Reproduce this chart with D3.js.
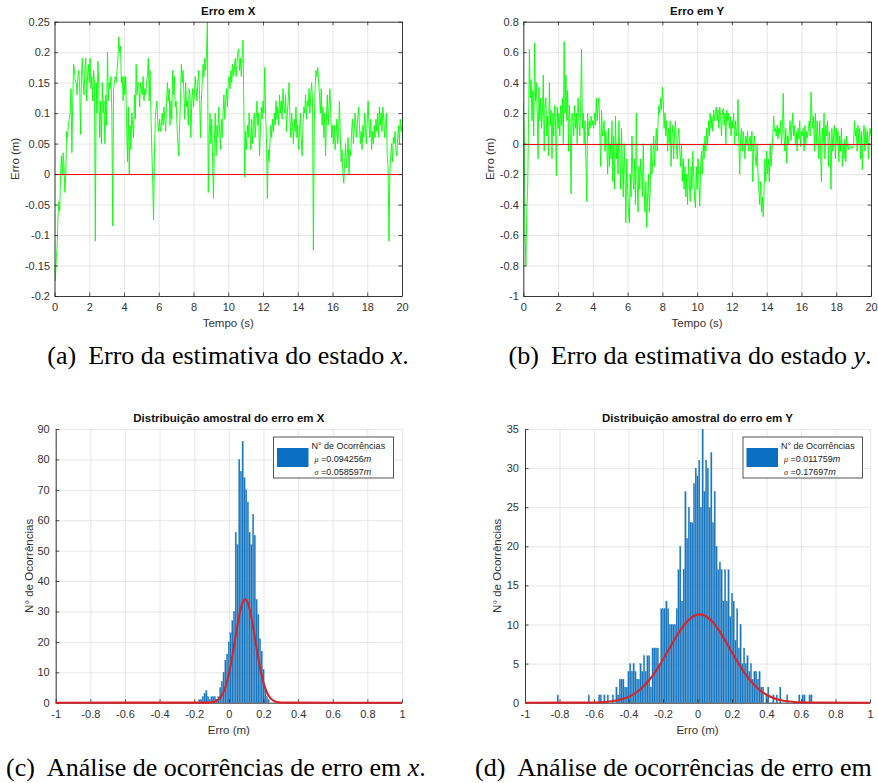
<!DOCTYPE html>
<html><head><meta charset="utf-8">
<script src="https://cdn.jsdelivr.net/npm/d3@7"></script>
<style>
body{margin:0;background:#fff}
svg{display:block}
</style>
</head><body>
<svg id="fig" width="878" height="783" font-family='"Liberation Sans",Arial,Helvetica,sans-serif'></svg>
<script>
// ---------------- DATA ----------------
const dt = 0.05; // sampling step of the time series (s)
const errX = [
-0.15,-0.175,-0.14,-0.12,-0.07,-0.045,-0.06,0.0,0.03,0.0,0.035,0.01,-0.03,0.0,0.07,0.06,0.08,0.09,0.1,0.14,0.035,
0.12,0.18,0.17,0.15,0.15,0.13,0.16,0.17,0.14,0.065,0.16,0.19,0.15,0.13,0.17,0.19,0.12,0.16,0.18,0.15,
0.19,0.14,0.16,0.12,0.17,0.15,-0.11,0.15,0.1,0.185,0.14,0.06,0.12,0.05,0.15,0.1,0.12,0.05,0.13,0.08,
0.2,0.12,0.15,0.14,0.16,0.1,-0.085,0.14,0.15,0.16,0.15,0.17,0.19,0.225,0.2,0.21,0.15,0.16,0.12,0.16,
0.13,0.16,0.08,0.02,0.11,0.0,0.08,0.04,0.1,0.08,0.06,0.13,0.09,0.18,0.13,0.15,0.15,0.11,0.15,0.14,
0.13,0.16,0.12,0.14,0.13,0.15,0.16,0.19,0.12,0.17,0.1,0.04,-0.01,-0.075,0.03,0.09,0.11,0.12,0.08,0.07,
0.09,0.07,0.08,0.1,0.08,0.11,0.09,0.07,0.12,0.15,0.12,0.14,0.08,0.12,0.09,0.17,0.13,0.16,0.11,0.12,
0.08,0.05,0.03,0.08,0.12,0.18,0.15,0.17,0.13,0.09,0.15,0.11,0.12,0.08,0.14,0.13,0.06,0.12,0.14,0.11,
0.13,0.16,0.14,0.12,0.15,0.17,0.13,0.06,0.12,0.15,0.18,0.16,0.19,0.17,0.2,0.25,-0.03,0.06,0.1,0.05,
0.09,0.02,-0.04,0.05,0.1,0.03,0.08,0.06,0.11,0.07,0.04,0.09,0.06,0.1,0.13,0.09,0.12,0.14,0.11,0.15,
0.16,0.14,0.17,0.15,0.18,0.16,0.17,0.19,0.16,0.18,0.2,0.205,0.17,0.19,0.16,0.19,0.22,0.1,-0.005,0.07,
0.04,0.08,0.06,0.1,0.07,0.04,0.09,0.05,0.08,0.1,0.06,0.09,0.12,0.08,0.1,0.03,0.07,0.11,0.09,0.12,
0.1,0.175,0.1,0.06,-0.04,0.04,0.02,0.05,0.08,0.06,0.09,0.07,0.1,0.08,0.12,0.09,0.11,0.08,0.13,0.1,
0.12,0.09,0.14,0.11,0.1,0.13,0.07,0.1,0.12,0.15,0.09,0.06,0.1,0.08,0.05,0.09,0.07,0.11,0.06,0.08,
0.04,0.07,0.1,0.06,0.03,0.08,0.11,0.1,0.13,0.09,0.12,0.11,0.14,0.1,0.13,0.15,0.12,-0.125,0.08,0.14,
0.17,0.16,0.175,0.15,0.13,0.1,0.14,0.08,0.11,0.06,0.1,0.03,0.09,0.13,0.08,0.11,0.14,0.1,0.06,0.08,
0.05,0.08,0.04,0.06,0.09,0.05,0.07,0.12,0.06,0.02,0.04,0.0,-0.015,0.02,0.05,0.01,0.03,0.06,0.0,0.04,
0.03,0.07,0.09,0.05,0.07,0.1,0.08,0.06,0.09,0.11,0.08,0.05,0.07,0.04,0.08,0.06,0.1,0.07,0.05,0.09,
0.12,0.08,0.06,0.09,0.04,0.07,0.05,0.08,0.06,0.09,0.07,0.1,0.06,0.11,0.08,0.1,0.07,0.11,0.09,0.06,
0.08,0.1,0.03,0.01,-0.11,0.0,0.03,0.05,0.02,0.06,0.05,0.07,0.04,0.03,0.06,0.08,0.05,0.09,0.07,0.08
];
const errY = [
0.27,0.1,-0.6,-0.8,-0.45,-0.3,0.1,0.62,0.3,0.42,0.15,0.35,0.05,0.66,0.28,0.4,0.2,-0.1,0.37,0.15,0.3,
0.1,0.2,0.45,-0.05,0.25,0.3,0.05,0.18,-0.08,0.4,0.12,0.22,-0.1,0.2,0.05,0.25,0.15,-0.21,0.24,0.1,
0.2,0.05,0.25,0.12,0.3,0.0,0.67,0.2,0.45,0.15,0.35,-0.05,0.25,0.1,-0.33,0.2,0.15,0.05,0.25,0.1,
0.2,0.0,0.3,0.15,0.05,0.25,0.62,0.1,0.2,0.0,0.15,-0.1,-0.38,0.2,0.05,0.15,0.1,0.18,0.12,0.15,
0.1,0.2,0.12,0.3,0.15,0.25,0.3,0.1,-0.15,0.22,0.05,0.1,0.15,-0.05,0.08,0.0,-0.2,0.1,-0.15,0.0,
-0.1,0.15,-0.25,0.05,-0.3,0.18,-0.1,0.0,-0.2,0.15,-0.05,-0.3,0.1,-0.15,-0.35,0.0,-0.2,-0.52,-0.1,-0.3,
-0.45,-0.52,-0.2,-0.35,0.05,-0.2,-0.3,-0.1,-0.4,0.2,-0.25,-0.45,-0.15,-0.3,-0.1,-0.2,-0.35,0.0,-0.3,-0.45,
-0.25,-0.55,-0.35,-0.2,-0.45,-0.3,0.0,-0.2,-0.1,0.05,-0.15,0.0,0.1,-0.05,0.15,0.25,0.2,0.3,0.22,0.37,
0.28,0.1,0.2,0.05,0.15,-0.05,0.1,0.0,0.15,-0.15,0.05,0.12,-0.1,0.08,0.15,0.0,-0.1,0.05,0.1,-0.05,
-0.15,0.0,-0.25,-0.1,-0.3,-0.15,-0.35,-0.2,-0.4,-0.1,-0.25,-0.38,-0.15,-0.3,-0.05,-0.2,-0.35,-0.42,-0.15,-0.3,
-0.1,-0.25,-0.41,-0.15,-0.05,-0.2,0.0,-0.1,0.05,-0.05,0.1,0.0,0.15,0.05,0.2,0.1,0.18,0.08,0.22,0.15,
0.2,0.24,0.15,0.22,0.1,0.24,0.18,0.05,0.2,0.23,0.12,0.2,0.0,0.22,0.15,0.2,0.1,0.18,0.05,0.15,
0.1,0.2,0.0,0.15,0.05,0.1,0.29,0.0,-0.2,0.05,0.1,-0.05,0.08,0.0,-0.1,0.05,0.0,0.08,-0.05,0.02,
0.05,-0.05,0.08,-0.25,0.0,0.05,-0.1,-0.15,0.0,-0.2,-0.3,-0.4,-0.25,-0.45,-0.35,-0.48,-0.3,-0.1,-0.25,-0.05,
-0.2,-0.1,-0.25,0.0,-0.15,-0.05,0.05,0.18,0.08,0.1,0.05,0.12,0.03,0.1,0.06,0.15,0.0,0.08,0.33,0.05,
-0.05,0.1,-0.13,0.05,0.0,0.08,0.15,0.02,0.1,0.2,0.05,0.12,0.0,0.08,-0.05,0.1,0.03,0.15,-0.02,0.08,
0.05,0.1,-0.05,0.12,0.0,0.08,0.04,0.1,0.15,0.05,0.34,0.2,0.1,0.18,-0.05,0.2,0.0,0.15,0.05,-0.1,
0.15,-0.05,-0.25,0.1,0.0,0.2,-0.1,0.12,0.05,0.15,-0.15,0.08,0.0,-0.3,0.1,-0.05,0.05,0.12,-0.1,0.1,
0.0,0.08,-0.12,0.05,-0.05,0.1,-0.15,0.0,-0.1,0.03,-0.12,0.05,-0.02,-0.04,0.0,-0.02,-0.03,-0.02,-0.03,0.0,
0.15,0.05,0.1,-0.05,0.12,0.0,0.1,-0.1,0.08,-0.17,0.05,0.12,-0.05,0.1,0.0,0.08,-0.1,0.05,0.1,0.05
];
const timeTicks = [0,2,4,6,8,10,12,14,16,18,20];
const errXTicks = [-0.2,-0.15,-0.1,-0.05,0,0.05,0.1,0.15,0.2,0.25];
const errXTickLabels = ["-0.2","-0.15","-0.1","-0.05","0","0.05","0.1","0.15","0.2","0.25"];
const errYTicks = [-1,-0.8,-0.6,-0.4,-0.2,0,0.2,0.4,0.6,0.8];
const errYTickLabels = ["-1","-0.8","-0.6","-0.4","-0.2","0","0.2","0.4","0.6","0.8"];

// histograms: bin width 0.01, first bin centre given
const binWidth = 0.01;
const histXFirst = -0.17;
const histXCounts = [1,1,2,3,4,2,1,2,2,2,1,2,5,7,10,14,16,20,23,27,30,56,52,80,76,86,74,70,66,56,52,62,55,34,29,21,17,11,5,2,1];
const histYFirst = -0.82;
const histYCounts = [
0,1,0,0,0,0,0,0,0,0,0,0,0,0,0,0,0,0,0,1,0,0,0,0,0,1,1,0,1,0,1,0,0,1,0,2,1,3,3,3,2,2,4,5,4,5,4,3,3,5,4,6,4,6,6,2,7,7,7,7,5,
12,12,12,13,12,10,10,10,10,12,17,20,13,17,27,21,25,23,23,28,30,29,31,25,35,27,31,30,25,32,23,27,20,17,18,17,13,17,13,17,11,14,13,8,12,7,10,5,7,5,6,4,5,3,4,4,3,4,2,2,0,1,2,0,0,1,0,1,0,2,0,0,0,1,0,0,0,0,0,0,1,0,1,1,0,0,1,1];
const fitXx = [-1,-0.12,-0.1,-0.08,-0.06,-0.04,-0.02,0,0.02,0.04,0.06,0.08,0.094,0.1,0.12,0.14,0.16,0.18,0.2,0.22,0.24,0.26,0.28,0.3,0.32,1];
const fitXy = [0,0.04,0.14,0.41,1.08,2.49,5.12,9.39,15.3,22.2,28.7,33.0,34.0,33.8,30.8,25.0,18.0,11.6,6.62,3.37,1.53,0.61,0.22,0.07,0.02,0];
const fitYx = [-1,-0.64,-0.6,-0.56,-0.52,-0.48,-0.44,-0.4,-0.36,-0.32,-0.28,-0.24,-0.2,-0.16,-0.12,-0.08,-0.04,0,0.012,0.04,0.08,0.12,0.16,0.2,0.24,0.28,0.32,0.36,0.4,0.44,0.48,0.52,0.56,0.6,0.64,1];
const fitYy = [0,0.01,0.03,0.06,0.12,0.24,0.43,0.75,1.24,1.95,2.90,4.10,5.52,7.05,8.56,9.87,10.82,11.27,11.3,11.16,10.50,9.38,7.97,6.43,4.93,3.59,2.49,1.63,1.02,0.61,0.34,0.18,0.09,0.04,0.02,0];
const errTicks = [-1,-0.8,-0.6,-0.4,-0.2,0,0.2,0.4,0.6,0.8,1];
const errTickLabels = ["-1","-0.8","-0.6","-0.4","-0.2","0","0.2","0.4","0.6","0.8","1"];
const countTicksX = [0,10,20,30,40,50,60,70,80,90];
const countTicksY = [0,5,10,15,20,25,30,35];

// ---------------- DRAWING ----------------
const svg = d3.select("#fig");
const SANS = '"Liberation Sans",Arial,Helvetica,sans-serif';
const SERIF = '"Liberation Serif","Times New Roman",serif';
const AX = "#262626", GRID = "#e1e1e1", TXT = "#333";
const TL = 3.5;

function grid(g, x, y, xt, yt) {
  const [x0, x1] = x.range(), [y0, y1] = y.range();
  g.append("g").attr("transform", `translate(0,${y0})`)
    .call(d3.axisBottom(x).tickValues(xt).tickSize(-(y0 - y1)).tickFormat("").tickSizeOuter(0))
    .call(s => { s.select(".domain").remove(); s.selectAll("line").attr("stroke", GRID).attr("stroke-width", 0.8); });
  g.append("g").attr("transform", `translate(${x0},0)`)
    .call(d3.axisLeft(y).tickValues(yt).tickSize(-(x1 - x0)).tickFormat("").tickSizeOuter(0))
    .call(s => { s.select(".domain").remove(); s.selectAll("line").attr("stroke", GRID).attr("stroke-width", 0.8); });
}
function styleAxis(s) {
  s.attr("font-family", SANS).attr("font-size", 11);
  s.select(".domain").attr("stroke", AX).attr("stroke-width", 0.9);
  s.selectAll(".tick line").attr("stroke", AX).attr("stroke-width", 0.8);
  s.selectAll("text").attr("fill", TXT);
}
function axes(g, x, y, xt, xl, yt, yl, box, padX, padY) {
  const [x0, x1] = x.range(), [y0, y1] = y.range();
  g.append("g").attr("transform", `translate(0,${y0})`)
    .call(d3.axisBottom(x).tickValues(xt).tickFormat((d, i) => xl[i]).tickSize(-TL).tickSizeOuter(0).tickPadding(padX))
    .call(styleAxis);
  g.append("g").attr("transform", `translate(${x0},0)`)
    .call(d3.axisLeft(y).tickValues(yt).tickFormat((d, i) => yl[i]).tickSize(-TL).tickSizeOuter(0).tickPadding(padY))
    .call(styleAxis);
  if (box) {
    g.append("g").attr("transform", `translate(0,${y1})`)
      .call(d3.axisTop(x).tickValues(xt).tickFormat("").tickSize(-TL).tickSizeOuter(0)).call(styleAxis);
    g.append("g").attr("transform", `translate(${x1},0)`)
      .call(d3.axisRight(y).tickValues(yt).tickFormat("").tickSize(-TL).tickSizeOuter(0)).call(styleAxis);
  }
}
function labels(g, x, y, title, xlab, ylab, titleY, xlabY, ylabX) {
  const [x0, x1] = x.range(), [y0, y1] = y.range();
  const cx = (x0 + x1) / 2, cy = (y0 + y1) / 2;
  g.append("text").attr("x", cx).attr("y", titleY).attr("text-anchor", "middle")
    .attr("font-weight", "bold").attr("font-size", 11.5).attr("fill", "#111").text(title);
  g.append("text").attr("x", cx).attr("y", xlabY).attr("text-anchor", "middle")
    .attr("font-size", 11.5).attr("fill", TXT).text(xlab);
  g.append("text").attr("transform", `translate(${ylabX},${cy}) rotate(-90)`).attr("dy", "0.35em")
    .attr("text-anchor", "middle").attr("font-size", 11.5).attr("fill", TXT).text(ylab);
}

function timePanel(id, L, R, T, B, data, yDom, yt, yl, title, ylabX) {
  const g = svg.append("g");
  const x = d3.scaleLinear().domain([0, 20]).range([L, R]);
  const y = d3.scaleLinear().domain(yDom).range([B, T]);
  grid(g, x, y, timeTicks, yt);
  g.append("clipPath").attr("id", id).append("rect").attr("x", L).attr("y", T).attr("width", R - L).attr("height", B - T);
  g.append("path").datum(data).attr("clip-path", `url(#${id})`)
    .attr("fill", "none").attr("stroke", "#00ff00").attr("stroke-width", 0.9).attr("stroke-linejoin", "round")
    .attr("d", d3.line().x((d, i) => x(i * dt)).y(d => y(d)));
  g.append("path").datum([0, 20]).attr("fill", "none").attr("stroke", "#ff0000").attr("stroke-width", 1)
    .attr("shape-rendering", "crispEdges")
    .attr("d", d3.line().x(d => x(d)).y(() => Math.round(y(0)) + 0.5));
  axes(g, x, y, timeTicks, timeTicks.map(String), yt, yl, true, 7, 4.5);
  labels(g, x, y, title, "Tempo (s)", "Erro (m)", 15, 327, ylabX);
}

function histPanel(id, L, R, T, B, first, counts, yMax, yt, fx, fy, title, ylabX, legend) {
  const g = svg.append("g");
  const x = d3.scaleLinear().domain([-1, 1]).range([L, R]);
  const y = d3.scaleLinear().domain([0, yMax]).range([B, T]);
  grid(g, x, y, errTicks, yt);
  const bins = counts.map((c, i) => ({ c0: first + i * binWidth, n: c }));
  g.append("g").selectAll("rect").data(bins.filter(b => b.n > 0)).join("rect")
    .attr("x", b => x(b.c0 - binWidth / 2) + 0.15)
    .attr("width", b => Math.max(0.5, x(b.c0 + binWidth / 2) - x(b.c0 - binWidth / 2) - 0.3))
    .attr("y", b => y(b.n)).attr("height", b => y(0) - y(b.n))
    .attr("fill", "#1675bd").attr("stroke", "#3f8ccb").attr("stroke-width", 0.25);
  axes(g, x, y, errTicks, errTickLabels, yt, yt.map(String), false, 7.5, 6);
  g.append("path").datum(fx.map((v, i) => [v, fy[i]]))
    .attr("fill", "none").attr("stroke", "#d9232a").attr("stroke-width", 2.1).attr("stroke-linejoin", "round")
    .attr("d", d3.line().x(d => x(d[0])).y(d => y(d[1])).curve(d3.curveMonotoneX));
  labels(g, x, y, title, "Erro (m)", "N° de Ocorrências", 422, 734, ylabX);
  // legend
  const lg = g.append("g");
  lg.append("rect").attr("x", legend.x).attr("y", 437).attr("width", legend.w).attr("height", 41)
    .attr("fill", "#fff").attr("stroke", "#444").attr("stroke-width", 0.9);
  lg.append("rect").attr("x", legend.x + 3.5).attr("y", 448).attr("width", 31.5).attr("height", 19).attr("fill", "#0a6fc0");
  const tx = legend.x + 38;
  lg.append("text").attr("x", tx).attr("y", 449).attr("font-size", 9).attr("fill", "#222").text("N° de Ocorrências");
  const l2 = lg.append("text").attr("x", tx + 3).attr("y", 462).attr("font-size", 9).attr("fill", "#222");
  l2.append("tspan").attr("font-style", "italic").attr("font-family", SERIF).attr("font-size", 8).text("μ");
  l2.append("tspan").text(" =" + legend.mu);
  l2.append("tspan").attr("font-style", "italic").text("m");
  const l3 = lg.append("text").attr("x", tx + 3).attr("y", 474.5).attr("font-size", 9).attr("fill", "#222");
  l3.append("tspan").attr("font-style", "italic").attr("font-family", SERIF).attr("font-size", 8).text("σ");
  l3.append("tspan").text(" =" + legend.sigma);
  l3.append("tspan").attr("font-style", "italic").text("m");
}

timePanel("clipA", 54.5, 402, 21.7, 296, errX, [-0.2, 0.25], errXTicks, errXTickLabels, "Erro em X", 15);
timePanel("clipB", 523.3, 871, 21.7, 296, errY, [-1, 0.8], errYTicks, errYTickLabels, "Erro em Y", 490);
histPanel("hc", 55.7, 402, 429, 702.7, histXFirst, histXCounts, 90, countTicksX, fitXx, fitXy,
  "Distribuição amostral do erro em X", 28.5, { x: 273.5, w: 120, mu: "0.094256", sigma: "0.058597" });
histPanel("hd", 525, 870, 429, 702.7, histYFirst, histYCounts, 35, countTicksY, fitYx, fitYy,
  "Distribuição amostral do erro em Y", 497, { x: 743, w: 119.5, mu: "0.011759", sigma: "0.17697" });

// captions
function caption(x, y, anchor, lab, body, v, tail) {
  const t = svg.append("text").attr("x", x).attr("y", y).attr("text-anchor", anchor)
    .attr("font-family", SERIF).attr("font-size", 26).attr("fill", "#000");
  t.append("tspan").text(lab);
  t.append("tspan").attr("dx", 12).text(body);
  if (v) t.append("tspan").attr("font-style", "italic").text(v);
  if (tail) t.append("tspan").text(tail);
}
caption(228, 364, "middle", "(a)", "Erro da estimativa do estado ", "x", ".");
caption(690, 364, "middle", "(b)", "Erro da estimativa do estado ", "y", ".");
caption(6, 776, "start", "(c)", "Análise de ocorrências de erro em ", "x", ".");
caption(475, 776, "start", "(d)", "Análise de ocorrências de erro em", "", "");
</script>
</body></html>
